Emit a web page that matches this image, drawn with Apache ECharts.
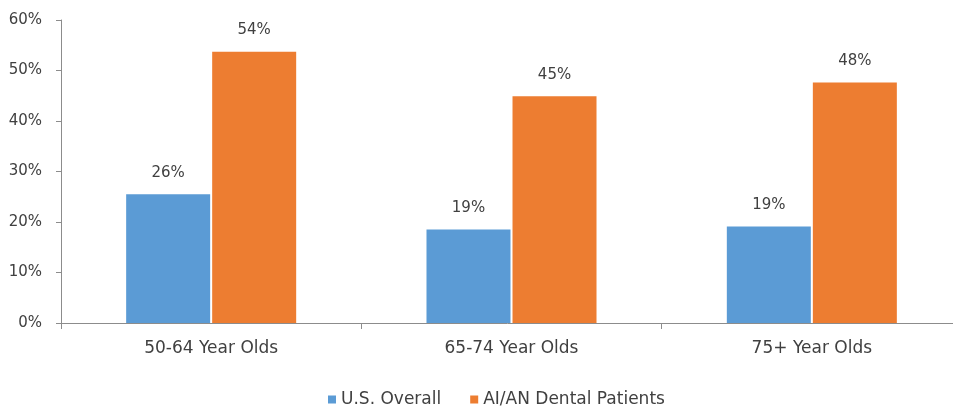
<!DOCTYPE html>
<html>
<head>
<meta charset="utf-8">
<script src="https://cdn.jsdelivr.net/npm/echarts@6/dist/echarts.min.js"></script>
<style>
  html, body { margin: 0; padding: 0; background: #fff; }
  #chart { width: 953px; height: 406px; }
</style>
</head>
<body>
<div id="chart"></div>
<script>
// data
const categories = ['50-64 Year Olds', '65-74 Year Olds', '75+ Year Olds'];
const usOverall = [25.5, 18.5, 19.1];
const aianPatients = [53.7, 44.9, 47.6];
const seriesNames = ['U.S. Overall', 'AI/AN Dental Patients'];

const textColor = '#404040';
const axisColor = '#8c8c8c';
const font = 'DejaVu Sans';

const labelOpt = {
    show: true,
    position: 'top',
    distance: 14,
    color: textColor,
    fontFamily: font,
    fontSize: 15,
    formatter: p => Math.round(p.value) + '%'
};

let myChart = echarts.init(document.getElementById('chart'));
myChart.setOption({
    animation: false,
    textStyle: { fontFamily: font, color: textColor },
    grid: { left: 61, top: 20, width: 901, height: 303, outerBoundsMode: 'none', containLabel: false },
    legend: {
        top: 386,
        left: 323,
        itemWidth: 8,
        itemHeight: 8,
        itemGap: 29,
        icon: 'rect',
        textStyle: { color: textColor, fontSize: 17, fontFamily: font },
        data: seriesNames
    },
    xAxis: {
        type: 'category',
        data: categories,
        axisLine: { lineStyle: { color: axisColor, width: 1 } },
        axisTick: { show: true, length: 6, lineStyle: { color: axisColor } },
        axisLabel: { color: textColor, fontSize: 17, margin: 17, fontFamily: font }
    },
    yAxis: {
        type: 'value',
        min: 0,
        max: 60,
        interval: 10,
        axisLine: { show: true, lineStyle: { color: axisColor, width: 1 } },
        axisTick: { show: true, length: 5, lineStyle: { color: axisColor } },
        splitLine: { show: false },
        axisLabel: { color: textColor, fontSize: 15, margin: 19, fontFamily: font, formatter: '{value}%' }
    },
    series: [
        {
            name: seriesNames[0],
            type: 'bar',
            data: usOverall,
            barWidth: 84,
            barGap: '2.4%',
            itemStyle: { color: '#5b9bd5' },
            label: labelOpt
        },
        {
            name: seriesNames[1],
            type: 'bar',
            data: aianPatients,
            barWidth: 84,
            barGap: '2.4%',
            itemStyle: { color: '#ed7d31' },
            label: labelOpt
        }
    ]
});
window.addEventListener('resize', () => { myChart.resize() });
</script>
</body>
</html>
